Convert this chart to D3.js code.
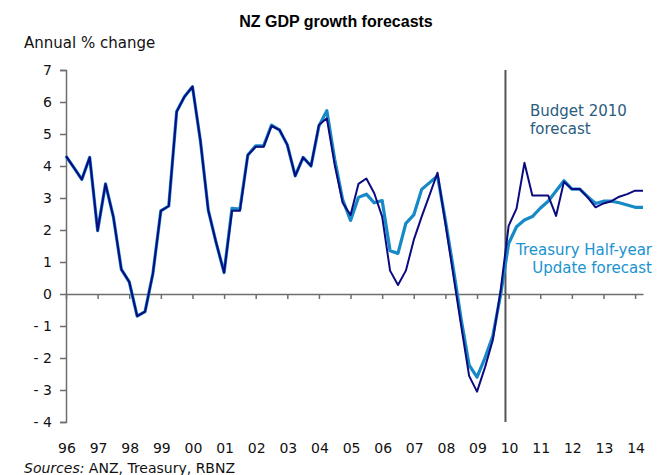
<!DOCTYPE html>
<html>
<head>
<meta charset="utf-8">
<script src="https://cdn.jsdelivr.net/npm/d3@7"></script>
<style>
  body { margin: 0; background: #fff; }
  svg { display: block; }
  .tick text { font-family: "DejaVu Sans", Verdana, sans-serif; font-size: 14px; fill: #111; }
</style>
</head>
<body>
<div id="chart"></div>
<script>
// quarterly annual % change, 1996 Q1 .. 2014 Q2
var yearLabels = ["96","97","98","99","00","01","02","03","04","05","06","07","08","09","10","11","12","13","14"];
var yTicks = [-4,-3,-2,-1,0,1,2,3,4,5,6,7];

var budget2010 = [
  4.31, 3.95, 3.58, 4.27, 1.98, 3.44, 2.40, 0.77, 0.38, -0.69, -0.55, 0.65,
  2.60, 2.75, 5.70, 6.17, 6.48, 4.80, 2.62, 1.60, 0.67, 2.60, 2.60, 4.34,
  4.60, 4.60, 5.25, 5.13, 4.66, 3.69, 4.27, 4.00, 5.28, 5.49, 4.03, 2.85,
  2.47, 3.44, 3.61, 3.15, 2.42, 0.73, 0.28, 0.73, 1.69, 2.42, 3.10, 3.79,
  2.20, 0.60, -1.00, -2.56, -3.05, -2.30, -1.44, 0.13, 2.13, 2.67, 4.10, 3.08,
  3.08, 3.08, 2.44, 3.51, 3.28, 3.28, 3.02, 2.71, 2.83, 2.90, 3.04, 3.12,
  3.23, 3.23
];

var treasuryHYU = [
  4.31, 3.95, 3.58, 4.27, 1.98, 3.44, 2.40, 0.77, 0.38, -0.69, -0.55, 0.65,
  2.60, 2.75, 5.70, 6.17, 6.48, 4.80, 2.62, 1.60, 0.67, 2.68, 2.65, 4.34,
  4.63, 4.63, 5.28, 5.13, 4.66, 3.69, 4.27, 4.00, 5.25, 5.73, 4.20, 2.95,
  2.30, 3.02, 3.12, 2.85, 2.92, 1.35, 1.27, 2.21, 2.47, 3.27, 3.48, 3.69,
  2.30, 0.80, -0.80, -2.22, -2.60, -2.00, -1.31, 0.00, 1.58, 2.10, 2.31, 2.42,
  2.68, 2.90, 3.22, 3.54, 3.28, 3.28, 3.04, 2.83, 2.90, 2.90, 2.85, 2.78,
  2.71, 2.71
];

var svgWidth = 668, svgHeight = 475;

var svg = d3.select("#chart")
    .append("svg")
    .attr("width", svgWidth)
    .attr("height", svgHeight);

// scales: quarter index along x, % change along y
var xScale = d3.scaleLinear()
    .domain([0, budget2010.length - 1])
    .range([66, 643]);

var yScale = d3.scaleLinear()
    .domain([-4, 7])
    .range([422, 70]);

var axisColor = "#6e6e6e";

// title and labels
svg.append("text")
    .attr("x", 336)
    .attr("y", 27)
    .attr("text-anchor", "middle")
    .style("font-family", "'Liberation Sans', Arial, sans-serif")
    .style("font-weight", "bold")
    .style("font-size", "16px")
    .text("NZ GDP growth forecasts");

svg.append("text")
    .attr("x", 24)
    .attr("y", 48)
    .style("font-family", "'DejaVu Sans', Verdana, sans-serif")
    .style("font-size", "15px")
    .style("fill", "#111")
    .text("Annual % change");

// y axis
var yAxis = d3.axisLeft(yScale)
    .tickValues(yTicks)
    .tickSize(6)
    .tickPadding(8)
    .tickFormat(d => d < 0 ? "- " + Math.abs(d) : d);

var yG = svg.append("g")
    .attr("transform", `translate(${xScale(0)},0)`)
    .call(yAxis);
yG.select(".domain").attr("stroke", axisColor).attr("stroke-width", 1.5);
yG.selectAll(".tick line").attr("stroke", axisColor).attr("stroke-width", 1.5);

// x axis on the zero line, ticks every 4 quarters
var xAxis = d3.axisBottom(xScale)
    .tickValues(yearLabels.map((d, i) => i * 4))
    .tickSize(5)
    .tickSizeOuter(0)
    .tickFormat("");

var xG = svg.append("g")
    .attr("transform", `translate(0,${yScale(0)})`)
    .call(xAxis);
xG.select(".domain").attr("stroke", axisColor).attr("stroke-width", 1.5);
xG.selectAll(".tick line").attr("stroke", axisColor).attr("stroke-width", 1.5);

// year labels along the bottom
svg.append("g")
    .selectAll("text")
    .data(yearLabels)
    .enter()
    .append("text")
    .attr("x", (d, i) => xScale(i * 4) + 1)
    .attr("y", 453)
    .attr("text-anchor", "middle")
    .style("font-family", "'DejaVu Sans', Verdana, sans-serif")
    .style("font-size", "14px")
    .style("fill", "#111")
    .text(d => d);

// vertical marker at start of 2010
svg.append("line")
    .attr("x1", xScale(55.6))
    .attr("x2", xScale(55.6))
    .attr("y1", yScale(7))
    .attr("y2", yScale(-4))
    .attr("stroke", "#555")
    .attr("stroke-width", 2);

// lines
var line = d3.line()
    .x((d, i) => xScale(i))
    .y(d => yScale(d));

svg.append("path")
    .datum(treasuryHYU)
    .attr("fill", "none")
    .attr("stroke", "#1689c6")
    .attr("stroke-width", 3.2)
    .attr("stroke-linejoin", "round")
    .attr("d", line);

svg.append("path")
    .datum(budget2010)
    .attr("fill", "none")
    .attr("stroke", "#0b0b80")
    .attr("stroke-width", 2)
    .attr("stroke-linejoin", "round")
    .attr("d", line);

// annotations
var budgetLabel = svg.append("text")
    .style("font-family", "'DejaVu Sans', Verdana, sans-serif")
    .style("font-size", "15px")
    .style("fill", "#2a5d7e");
budgetLabel.append("tspan").attr("x", 530).attr("y", 116).text("Budget 2010");
budgetLabel.append("tspan").attr("x", 530).attr("y", 134).text("forecast");

var hyuLabel = svg.append("text")
    .attr("text-anchor", "end")
    .style("font-family", "'DejaVu Sans', Verdana, sans-serif")
    .style("font-size", "15px")
    .style("fill", "#1a93cf");
hyuLabel.append("tspan").attr("x", 652).attr("y", 255).text("Treasury Half-year");
hyuLabel.append("tspan").attr("x", 652).attr("y", 273).text("Update forecast");

// source note
var src = svg.append("text")
    .attr("x", 24)
    .attr("y", 473)
    .style("font-family", "'DejaVu Sans', Verdana, sans-serif")
    .style("font-size", "14px")
    .style("fill", "#111");
src.append("tspan").style("font-style", "italic").text("Sources:");
src.append("tspan").text(" ANZ, Treasury, RBNZ");
</script>
</body>
</html>
